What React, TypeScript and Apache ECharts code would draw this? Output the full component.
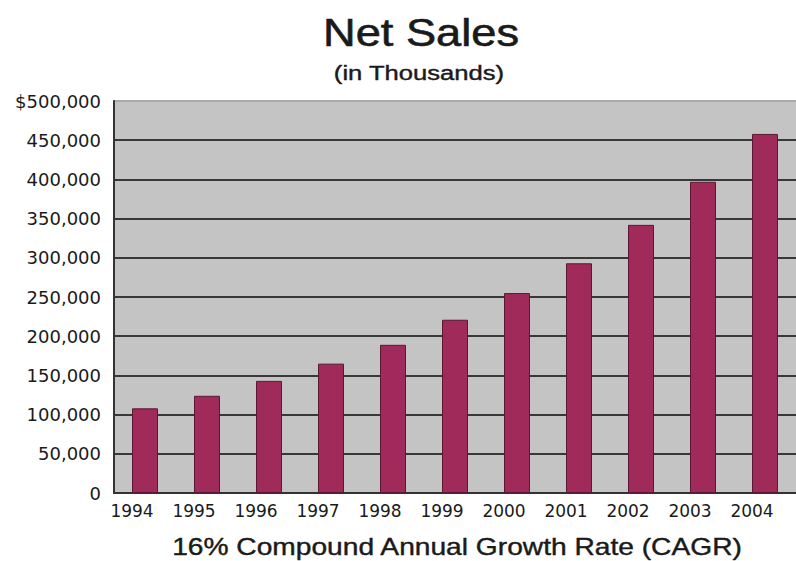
import React, { useEffect, useRef } from "react";
import * as echarts from "echarts";

const years = ["1994", "1995", "1996", "1997", "1998", "1999", "2000", "2001", "2002", "2003", "2004"];
const netSales = [108000, 124000, 143000, 165000, 189000, 221000, 255000, 293000, 342000, 397000, 458000];
const titleText = "Net Sales";
const subtitleText = "(in Thousands)";
const footerText = "16% Compound Annual Growth Rate (CAGR)";
const yMax = 500000;
const yStep = 50000;

function formatY(v: number): string {
  if (v === 0) return "0";
  const s = v.toLocaleString("en-US");
  return v === yMax ? "$" + s : s;
}

export default function App() {
  const ref = useRef<HTMLDivElement>(null);
  useEffect(() => {
    if (!ref.current) return;
    const chart = echarts.init(ref.current, null, { renderer: "svg" });
    const gridColors: string[] = [];
    for (let v = 0; v <= yMax; v += yStep) gridColors.push(v === yMax ? "#a9a9a9" : "#383838");
    const textFill = "#1a1a1a";
    chart.setOption({
      animation: false,
      backgroundColor: "#ffffff",
      textStyle: { fontFamily: "Liberation Sans" },
      graphic: [
        {
          type: "text",
          x: 421,
          y: 33,
          scaleX: 1.19,
          style: {
            text: titleText,
            font: '38px "Liberation Sans"',
            fill: textFill,
            stroke: textFill,
            lineWidth: 0.6,
            textAlign: "center",
            textVerticalAlign: "middle",
          },
        },
        {
          type: "text",
          x: 419,
          y: 73,
          scaleX: 1.28,
          style: {
            text: subtitleText,
            font: '20px "Liberation Sans"',
            fill: textFill,
            stroke: textFill,
            lineWidth: 0.4,
            textAlign: "center",
            textVerticalAlign: "middle",
          },
        },
        {
          type: "text",
          x: 457,
          y: 547,
          scaleX: 1.225,
          style: {
            text: footerText,
            font: '23px "Liberation Sans"',
            fill: textFill,
            stroke: textFill,
            lineWidth: 0.4,
            textAlign: "center",
            textVerticalAlign: "middle",
          },
        },
      ],
      grid: {
        left: 114,
        top: 101,
        width: 688,
        height: 392,
        show: true,
        backgroundColor: "#c4c4c4",
        borderWidth: 0,
        containLabel: false,
      },
      xAxis: {
        type: "category",
        data: years,
        axisLine: { show: true, lineStyle: { color: "#333333", width: 2 } },
        axisTick: { show: false },
        axisLabel: {
          color: textFill,
          fontFamily: "DejaVu Sans",
          fontSize: 17,
          margin: 9,
          interval: 0,
          padding: [0, 26, 0, 0],
        },
      },
      yAxis: {
        type: "value",
        min: 0,
        max: yMax,
        interval: yStep,
        axisLine: { show: true, lineStyle: { color: "#333333", width: 2 } },
        axisTick: { show: false },
        splitLine: { show: true, lineStyle: { color: gridColors, width: 2 } },
        axisLabel: {
          color: textFill,
          fontFamily: "DejaVu Sans",
          fontSize: 18,
          margin: 13,
          formatter: (v: number) => formatY(v),
        },
      },
      series: [
        {
          type: "bar",
          data: netSales,
          barWidth: 26,
          itemStyle: { color: "#a02a5a", borderColor: "#5a1832", borderWidth: 1 },
        },
      ],
    });
    return () => chart.dispose();
  }, []);
  return (
    <div
      ref={ref}
      style={{ position: "absolute", left: 0, top: 0, width: 796, height: 561 }}
    />
  );
}
